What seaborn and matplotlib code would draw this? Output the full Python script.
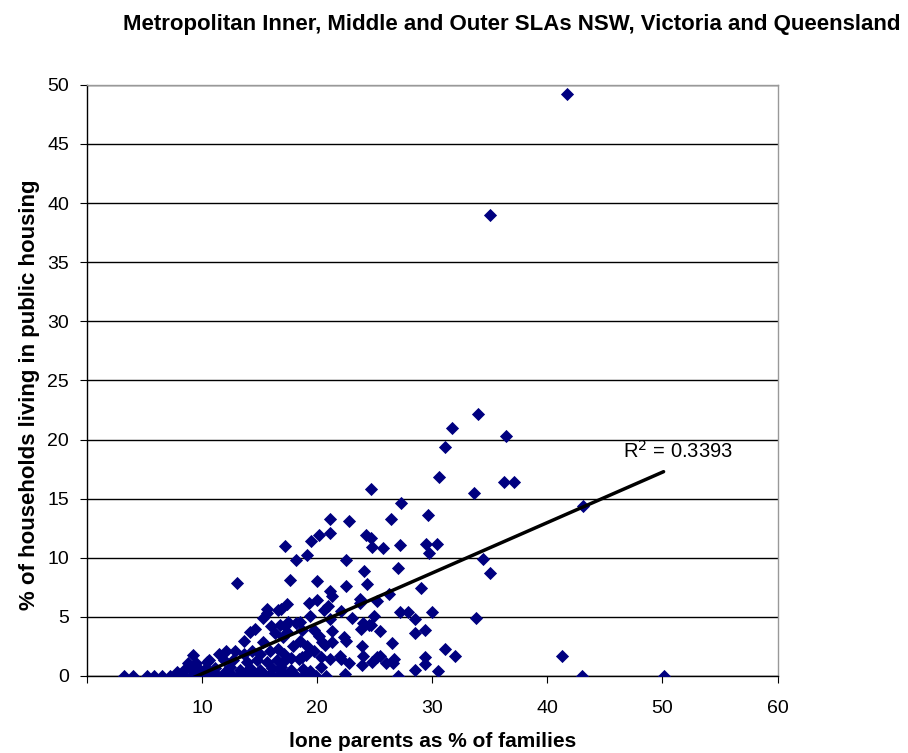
import numpy as np
import pandas as pd
import matplotlib
matplotlib.use("Agg")
import matplotlib.pyplot as plt
import seaborn as sns

# lone parents as % of families (x) vs % households in public housing (y)
lone_parents = [
    41.7, 35.0, 34.0, 31.7, 36.4, 31.1, 30.6, 33.6, 36.2, 37.1, 43.1, 34.4, 35.0, 33.8, 41.3, 43.0, 50.1,
    24.7, 27.3, 26.4, 29.6, 24.7, 24.8, 25.7, 27.2, 29.5, 30.4, 29.7, 27.0, 29.0, 26.2, 25.2, 27.2,
    27.9, 30.0, 24.9, 24.7, 28.5, 25.5, 29.4, 28.5, 26.5, 31.1, 32.0, 25.2, 25.5, 24.8, 26.0, 26.7,
    26.6, 29.4, 29.4, 27.0, 28.5, 30.5,
    21.1, 22.8, 21.1, 20.2, 19.5, 19.1, 24.2, 22.5, 24.1, 20.0, 22.5, 24.3, 21.1, 21.3, 19.3, 20.0,
    20.9, 20.6, 23.7, 23.7, 22.1, 19.4, 21.1, 23.0, 18.5, 21.3, 23.8, 24.0, 24.5, 20.2, 20.7, 21.3,
    22.3, 22.5, 23.9, 19.1, 19.7, 18.7, 20.3, 21.1, 22.0, 22.1, 22.8, 24.0, 23.9, 20.3, 18.8, 19.4,
    20.8, 22.4,
    18.2, 17.6, 17.4, 16.9, 17.5, 18.2, 18.7, 19.7, 17.0, 17.4, 20.4, 18.5, 17.9, 17.1, 17.7, 18.4,
    19.0, 16.9, 17.7, 19.4, 17.2, 18.2, 18.8, 17.2,
    13.0, 15.6, 15.6, 16.6, 15.3, 16.0, 16.8, 17.2, 14.6, 14.2, 13.6, 15.3, 16.3, 9.2, 10.6, 11.5,
    12.1, 12.9, 13.6, 14.3, 15.0, 15.9, 16.6, 11.9, 12.7, 13.9, 14.8, 15.6, 16.5, 17.2, 9.5, 10.3,
    11.1, 12.4, 13.3, 14.2, 15.0, 16.1, 16.8,
    9.2, 10.1, 10.8, 11.9, 12.7, 13.6, 14.5, 15.3, 16.2,
    11.4, 12.3, 13.1, 14.0, 14.9, 15.7, 16.6, 17.6, 19.9, 10.5, 12.0, 13.8, 15.4, 17.9,
    3.2, 4.0, 5.2, 5.8, 6.5, 7.2, 7.8, 8.4, 9.0, 9.5, 8.8, 9.5, 10.4, 8.4, 7.8, 9.1, 9.8,
]
public_housing = [
    49.2, 39.0, 22.2, 21.0, 20.3, 19.4, 16.8, 15.5, 16.4, 16.4, 14.4, 9.9, 8.7, 4.9, 1.7, 0.0, 0.0,
    15.8, 14.6, 13.3, 13.6, 11.7, 10.9, 10.8, 11.1, 11.2, 11.2, 10.4, 9.1, 7.4, 6.9, 6.3, 5.4,
    5.4, 5.4, 5.1, 4.3, 4.8, 3.8, 3.9, 3.6, 2.8, 2.3, 1.7, 1.6, 1.7, 1.2, 1.1, 1.4,
    1.1, 1.6, 1.0, 0.0, 0.5, 0.4,
    13.3, 13.1, 12.1, 11.9, 11.4, 10.2, 11.9, 9.8, 8.9, 8.0, 7.6, 7.8, 7.2, 6.8, 6.2, 6.4,
    5.9, 5.6, 6.5, 6.2, 5.5, 5.1, 4.8, 4.9, 4.6, 3.8, 4.0, 4.5, 4.3, 3.4, 2.6, 2.9,
    3.3, 3.0, 2.5, 2.5, 2.1, 1.6, 1.6, 1.4, 1.7, 1.4, 1.1, 1.7, 0.9, 0.8, 0.6, 0.0,
    0.0, 0.2,
    9.8, 8.1, 6.1, 5.7, 4.6, 4.5, 3.9, 3.9, 3.3, 3.7, 2.9, 3.0, 2.5, 1.9, 1.5, 1.4,
    1.8, 0.8, 0.5, 0.4, 0.0, 0.0, 0.0, 11.0,
    7.9, 5.7, 5.3, 5.6, 4.9, 4.2, 4.3, 4.2, 4.0, 3.7, 3.0, 2.9, 3.6, 1.8, 1.35, 1.9,
    2.1, 2.1, 1.9, 2.1, 1.9, 2.1, 2.3, 1.35, 1.35, 1.2, 1.35, 1.2, 1.35, 1.35, 0.8, 0.65,
    0.65, 0.8, 0.5, 0.65, 0.5, 0.65, 0.5,
    0.0, 0.0, 0.0, 0.0, 0.0, 0.0, 0.0, 0.0, 0.0,
    0.0, 0.0, 0.0, 0.0, 0.0, 0.0, 0.0, 0.0, 0.0, 0.2, 0.3, 0.3, 0.2, 0.2,
    0.0, 0.0, 0.0, 0.0, 0.0, 0.0, 0.0, 0.0, 0.0, 0.0, 1.1, 1.1, 1.2, 0.5, 0.3, 0.5, 0.5,
]
r_squared_label = "R$^2$ = 0.3393"

df = pd.DataFrame({"lone": lone_parents, "housing": public_housing})

sns.set_style("white")
plt.rcParams["font.family"] = ["Liberation Sans", "DejaVu Sans"]
plt.rcParams["text.color"] = "black"
plt.rcParams["axes.labelcolor"] = "black"
plt.rcParams["xtick.color"] = "black"
plt.rcParams["ytick.color"] = "black"

fig = plt.figure(figsize=(9.08, 7.53), dpi=100)
ax = fig.add_axes([0.0958, 0.1023, 0.7605, 0.785])

sns.scatterplot(data=df, x="lone", y="housing", marker="D", s=45, color="#000080",
                edgecolor="#000080", linewidth=0, ax=ax, zorder=3)
sns.regplot(data=df, x="lone", y="housing", scatter=False, ci=None, truncate=True,
            line_kws={"color": "black", "linewidth": 2.5, "zorder": 4}, ax=ax)

ax.set_xlim(0, 60)
ax.set_ylim(0, 50)
ax.set_xticks(range(0, 61, 10))
ax.set_xticklabels([""] + [str(v) for v in range(10, 61, 10)])
ax.set_yticks(range(0, 51, 5))
ax.yaxis.grid(True, color="black", linewidth=1)
ax.set_axisbelow(True)
ax.tick_params(axis="both", labelsize=14, length=5, direction="out", color="black",
               bottom=True, left=True)
ax.tick_params(axis="x", pad=12)
ax.tick_params(axis="y", pad=8)

for side in ["left", "bottom"]:
    ax.spines[side].set_color("black")
    ax.spines[side].set_linewidth(1)
for side in ["top", "right"]:
    ax.spines[side].set_color("#999999")
    ax.spines[side].set_linewidth(1)

ax.set_xlabel("lone parents as % of families", fontsize=15, fontweight="bold")
ax.set_ylabel("% of households living in public housing", fontsize=16, fontweight="bold")
ax.xaxis.set_label_coords(0.5, -0.095)
ax.yaxis.set_label_coords(-0.068, 0.475)
fig.suptitle("Metropolitan Inner, Middle and Outer SLAs NSW, Victoria and Queensland",
             fontsize=16, fontweight="bold", x=0.564, y=0.982)

ax.text(46.6, 19.0, r_squared_label, fontsize=14.5, va="center", ha="left")

fig.savefig("out.png", dpi=100)
